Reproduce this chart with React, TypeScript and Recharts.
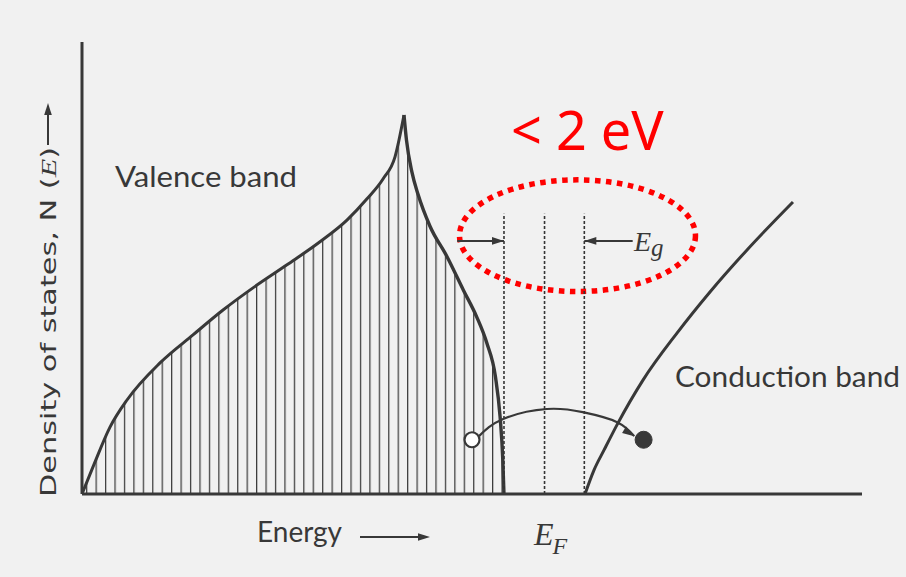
import React from "react";
import {
  ComposedChart,
  Area,
  Line,
  XAxis,
  YAxis,
  ReferenceLine,
  ReferenceDot,
  ReferenceArea
} from "recharts";

// energy (e) vs density of states (n), arbitrary units on both axes
const valenceRise = [
  { e: 0, n: 0 },
  { e: 0.141, n: 0.6 },
  { e: 0.359, n: 1.48 },
  { e: 0.577, n: 2.08 },
  { e: 1.0, n: 2.9 },
  { e: 1.423, n: 3.52 },
  { e: 1.808, n: 4.07 },
  { e: 2.192, n: 4.56 },
  { e: 2.628, n: 5.07 },
  { e: 3.051, n: 5.58 },
  { e: 3.397, n: 6.06 },
  { e: 3.654, n: 6.53 },
  { e: 3.859, n: 6.97 },
  { e: 4.013, n: 7.46 },
  { e: 4.128, n: 8.385 }
];

const valenceFall = [
  { e: 4.128, n: 8.385 },
  { e: 4.16, n: 7.83 },
  { e: 4.23, n: 7.12 },
  { e: 4.31, n: 6.62 },
  { e: 4.46, n: 5.93 },
  { e: 4.68, n: 5.25 },
  { e: 4.89, n: 4.51 },
  { e: 5.06, n: 3.92 },
  { e: 5.19, n: 3.34 },
  { e: 5.3, n: 2.6 },
  { e: 5.36, n: 1.71 },
  { e: 5.395, n: 0.75 },
  { e: 5.41, n: 0 }
];

const conduction = [
  { e: 6.449, n: 0 },
  { e: 6.564, n: 0.53 },
  { e: 6.692, n: 0.97 },
  { e: 6.859, n: 1.53 },
  { e: 7.192, n: 2.52 },
  { e: 7.628, n: 3.56 },
  { e: 8.051, n: 4.47 },
  { e: 8.526, n: 5.4 },
  { e: 9.115, n: 6.46 }
];

// valence edge, Fermi level, conduction edge
const edgeLevels = [5.41, 5.93, 6.44];
const edgeTop = 6.2;

const gapLeft = [
  { e: 4.81, n: 5.6 },
  { e: 5.41, n: 5.6 }
];
const gapRight = [
  { e: 7.06, n: 5.6 },
  { e: 6.44, n: 5.6 }
];

// hole -> electron jump across the gap
const jumpArc = [
  { e: 5.09, n: 1.28 },
  { e: 5.4, n: 1.66 },
  { e: 5.96, n: 1.88 },
  { e: 6.42, n: 1.81 },
  { e: 6.86, n: 1.59 },
  { e: 7.08, n: 1.28 }
];
const hole = { e: 5.0, n: 1.2 };
const electron = { e: 7.2, n: 1.2 };

// dotted ring around the gap
const gapRing = { e1: 4.84, e2: 7.865, n1: 4.48, n2: 6.95 };

const ink = "#383838";
const sans = "Lato, 'Open Sans', sans-serif";
const serif = "'Liberation Serif', 'DejaVu Serif', serif";

const arrowHead = (angle: number, last: number) => (p: any) => {
  if (p.index !== last) return <g key={`d${p.index}`} />;
  return (
    <path
      key={`d${p.index}`}
      d="M0,0 L-12,-3.8 L-12,3.8 Z"
      transform={`translate(${p.cx},${p.cy}) rotate(${angle})`}
      fill={ink}
    />
  );
};

const App: React.FunctionComponent = () => {
  return (
    <div style={{ position: "relative", width: 906, height: 577, background: "#f1f1f1" }}>
      <style>{"body{margin:0}"}</style>
      <svg width={0} height={0} style={{ position: "absolute" }}>
        <defs>
          <pattern id="vbHatch" patternUnits="userSpaceOnUse" x={86.1} y={0} width={9.44} height={10}>
            <line x1={0.6} y1={0} x2={0.6} y2={10} stroke="#3c3c3c" strokeWidth={1.3} />
          </pattern>
        </defs>
      </svg>
      <ComposedChart width={906} height={577} margin={{ top: 42, right: 44, bottom: 83, left: 82 }}>
        <XAxis type="number" dataKey="e" domain={[0, 10]} allowDataOverflow hide />
        <YAxis type="number" dataKey="n" domain={[0, 10]} allowDataOverflow hide />
        <Area
          data={valenceRise}
          dataKey="n"
          type="monotone"
          stroke={ink}
          strokeWidth={3}
          fill="url(#vbHatch)"
          fillOpacity={1}
          isAnimationActive={false}
          activeDot={false}
        />
        <Area
          data={valenceFall}
          dataKey="n"
          type="monotone"
          stroke={ink}
          strokeWidth={3.4}
          fill="url(#vbHatch)"
          fillOpacity={1}
          isAnimationActive={false}
          activeDot={false}
        />
        <Line
          data={conduction}
          dataKey="n"
          type="monotone"
          stroke={ink}
          strokeWidth={3}
          dot={false}
          activeDot={false}
          isAnimationActive={false}
        />
        {edgeLevels.map(x => (
          <ReferenceLine
            key={x}
            segment={[{ x, y: 0 }, { x, y: edgeTop }]}
            stroke="#333"
            strokeWidth={1.6}
            strokeDasharray="3 2"
          />
        ))}
        {/* axes */}
        <ReferenceLine
          segment={[{ x: 0, y: 0 }, { x: 10, y: 0 }]}
          stroke={ink}
          strokeWidth={3.2}
          ifOverflow="visible"
        />
        <ReferenceLine
          segment={[{ x: 0, y: 0 }, { x: 0, y: 10 }]}
          stroke={ink}
          strokeWidth={3}
          ifOverflow="visible"
        />
        <Line
          data={gapLeft}
          dataKey="n"
          type="linear"
          stroke={ink}
          strokeWidth={2}
          dot={arrowHead(0, 1)}
          activeDot={false}
          isAnimationActive={false}
        />
        <Line
          data={gapRight}
          dataKey="n"
          type="linear"
          stroke={ink}
          strokeWidth={2}
          dot={arrowHead(180, 1)}
          activeDot={false}
          isAnimationActive={false}
        />
        <Line
          data={jumpArc}
          dataKey="n"
          type="natural"
          stroke={ink}
          strokeWidth={2.2}
          dot={arrowHead(32, jumpArc.length - 1)}
          activeDot={false}
          isAnimationActive={false}
        />
        <ReferenceDot x={hole.e} y={hole.n} r={7.5} fill="#fff" stroke={ink} strokeWidth={2.2} />
        <ReferenceDot x={electron.e} y={electron.n} r={8.5} fill={ink} stroke={ink} strokeWidth={1} />
        <ReferenceArea
          x1={gapRing.e1}
          x2={gapRing.e2}
          y1={gapRing.n1}
          y2={gapRing.n2}
          fill="none"
          shape={(p: any) => (
            <ellipse
              cx={p.x + p.width / 2}
              cy={p.y + p.height / 2}
              rx={p.width / 2}
              ry={p.height / 2}
              fill="none"
              stroke="#ff0000"
              strokeWidth={5.5}
              strokeDasharray="5.5 5.5"
            />
          )}
        />
      </ComposedChart>
      <svg
        width={906}
        height={577}
        style={{ position: "absolute", left: 0, top: 0, pointerEvents: "none" }}
      >
        <g fill={ink} fontFamily={sans}>
          <text x={115} y={187} fontSize={29} textLength={182} lengthAdjust="spacingAndGlyphs">
            Valence band
          </text>
          <text x={675} y={387} fontSize={29} textLength={225} lengthAdjust="spacingAndGlyphs">
            Conduction band
          </text>
          <text x={257} y={542} fontSize={29} textLength={85} lengthAdjust="spacingAndGlyphs">
            Energy
          </text>
          <text
            transform="translate(56,497) rotate(-90)"
            fontSize={21}
            fontFamily="'DejaVu Sans', sans-serif"
            textLength={350}
            lengthAdjust="spacingAndGlyphs"
          >
            Density of states, N (<tspan fontFamily={serif} fontStyle="italic">E</tspan>)
          </text>
        </g>
        <g stroke={ink} strokeWidth={2}>
          <line x1={360} y1={537} x2={420} y2={537} />
          <line x1={48} y1={145} x2={48} y2={112} />
        </g>
        <g fill={ink}>
          <path d="M430,537 L418,533.2 L418,540.8 Z" />
          <path d="M48,103 L44.2,115 L51.8,115 Z" />
        </g>
        <g fill={ink} fontFamily={serif} fontStyle="italic">
          <text x={534} y={545} fontSize={32}>
            E<tspan fontSize={24} dy={9} dx={-1}>F</tspan>
          </text>
          <text x={634} y={251} fontSize={28}>
            E<tspan fontSize={25} dy={5} dx={0}>g</tspan>
          </text>
        </g>
        <text x={511} y={150} fontSize={54} fill="#ff0000" fontFamily="'Noto Sans', sans-serif">
          {"< 2 eV"}
        </text>
      </svg>
    </div>
  );
};

export default App;
